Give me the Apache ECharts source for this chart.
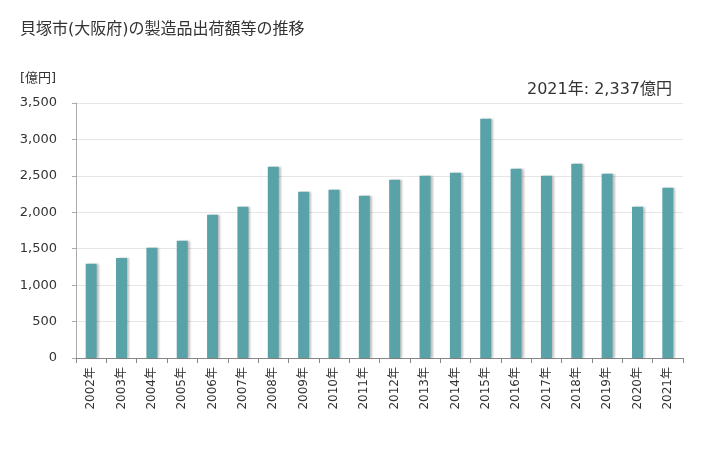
<!DOCTYPE html>
<html><head><meta charset="utf-8">
<script src="https://cdn.jsdelivr.net/npm/echarts@6/dist/echarts.min.js"></script>
<style>html,body{margin:0;padding:0;background:#fff}#c{width:728px;height:450px}</style>
</head><body><div id="c"></div>
<script>
const categories = ["2002年","2003年","2004年","2005年","2006年","2007年","2008年","2009年","2010年","2011年","2012年","2013年","2014年","2015年","2016年","2017年","2018年","2019年","2020年","2021年"];
const values = [1292,1374,1512,1608,1965,2075,2625,2281,2309,2226,2446,2501,2542,3284,2597,2501,2666,2528,2075,2337];
const yTicks = [0,500,1000,1500,2000,2500,3000,3500];
const titleText = "貝塚市(大阪府)の製造品出荷額等の推移";
const unitText = "[億円]";
const noteText = "2021年: 2,337億円";

const font = "'DejaVu Sans', 'Noto Sans CJK JP', sans-serif";
const chart = echarts.init(document.getElementById('c'));
chart.setOption({
  animation: false,
  textStyle: {fontFamily: font},
  title: [
    {text: titleText, left: 15, top: 17, textStyle: {fontSize: 16, fontWeight: 'normal', color: '#333', fontFamily: font}},
    {text: unitText, left: 15, top: 67, textStyle: {fontSize: 13, fontWeight: 'normal', color: '#333', fontFamily: font}},
    {text: noteText, right: 51, top: 77, textStyle: {fontSize: 16, fontWeight: 'normal', color: '#333', fontFamily: font}}
  ],
  grid: {left: 76, right: 45, top: 103, bottom: 92},
  xAxis: {
    type: 'category', data: categories,
    axisLine: {lineStyle: {color: '#888'}},
    axisTick: {show: true, alignWithLabel: false, lineStyle: {color: '#888'}},
    axisLabel: {rotate: 90, fontSize: 12, color: '#333', margin: 9, fontFamily: font}
  },
  yAxis: {
    type: 'value', min: yTicks[0], max: yTicks[yTicks.length-1], interval: 500,
    axisLine: {show: true, lineStyle: {color: '#aaa'}},
    axisTick: {show: true, length: 4, lineStyle: {color: '#aaa'}},
    splitLine: {lineStyle: {color: '#e6e6e6'}},
    axisLabel: {fontSize: 13, color: '#333', margin: 19, fontFamily: font,
      formatter: v => v.toLocaleString('en-US')}
  },
  series: [{
    type: 'bar', data: values, barWidth: 11,
    itemStyle: {color: '#58a2a8', shadowColor: 'rgba(0,0,0,0.25)', shadowBlur: 2, shadowOffsetX: 2, shadowOffsetY: 0}
  }]
});
</script></body></html>
